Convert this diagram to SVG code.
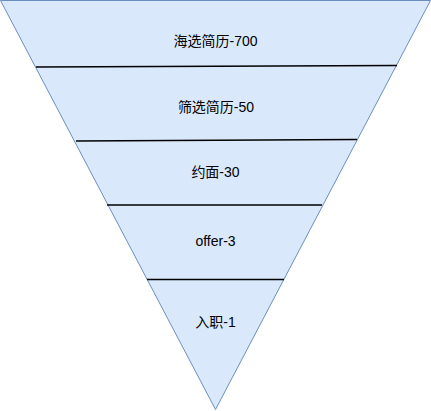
<svg xmlns="http://www.w3.org/2000/svg" width="431" height="411" viewBox="0 0 431 411">
<style>
.lbl{font-family:"Helvetica","Liberation Sans","Noto Sans CJK SC",sans-serif;font-size:14px;fill:#000;text-anchor:middle}
.sep{stroke:#000;stroke-width:1.3;fill:none}
</style>
<rect width="431" height="411" fill="#fff"/>
<g id="funnel">
<polygon points="0.5,0.5 430.5,0.5 215.5,409.5" fill="#dae8fc" stroke="#6c8ebf" stroke-width="1"/>
</g>
<g id="connectors">
<line class="sep" x1="36" y1="67" x2="397" y2="65.5"/>
<line class="sep" x1="76" y1="141" x2="357" y2="139.5"/>
<line class="sep" x1="107" y1="205" x2="322" y2="205"/>
<line class="sep" x1="147" y1="279.5" x2="284" y2="279.5"/>
</g>
<g id="n1"><text class="lbl" x="215.5" y="45.5">海选简历-700</text></g>
<g id="n2"><text class="lbl" x="216" y="111.5">筛选简历-50</text></g>
<g id="n3"><text class="lbl" x="215.5" y="176.5">约面-30</text></g>
<g id="n4"><text class="lbl" x="215.5" y="246">offer-3</text></g>
<g id="n5"><text class="lbl" x="215.5" y="326.5">入职-1</text></g>
</svg>
